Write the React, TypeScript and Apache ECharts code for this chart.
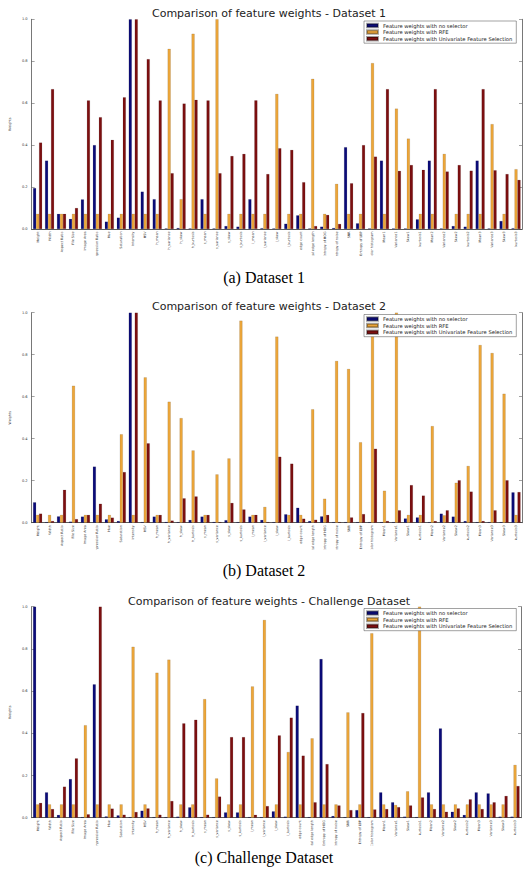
import React, { useEffect, useRef } from "react";
import * as echarts from "echarts";

const categories = [
  "Height", "Width", "Aspect Ratio", "File Size", "Image Area", "Compression Ratio",
  "Hue", "Saturation", "Intensity", "HSV", "h_mean", "h_variance", "h_skew", "h_kurtosis",
  "s_mean", "s_variance", "s_skew", "s_kurtosis", "i_mean", "i_variance", "i_skew", "i_kurtosis",
  "edge count", "Total edge length", "Entropy of HOG", "Entropy of noise", "SNR", "Entropy of LBP",
  "Color histogram", "Mean1", "Variance1", "Skew1", "kurtosis1", "Mean2", "Variance2", "Skew2",
  "kurtosis2", "Mean3", "Variance3", "Skew3", "kurtosis3",
];

const seriesNames = [
  "Feature weights with no selector",
  "Feature weights with RFE",
  "Feature weights with Univariate Feature Selection",
];

const yTicks = [0, 0.2, 0.4, 0.6, 0.8, 1.0];

// Dataset 1
const noSel1 = [0.195, 0.326, 0.072, 0.048, 0.141, 0.4, 0.035, 0.054, 1.0, 0.178, 0.142, 0.003, 0.005, 0.003, 0.142, 0.003, 0.014, 0.011, 0.142, 0.004, 0.003, 0.025, 0.065, 0.003, 0.011, 0.005, 0.39, 0.027, 0.003, 0.326, 0.003, 0.003, 0.046, 0.326, 0.003, 0.014, 0.011, 0.326, 0.003, 0.038, 0.004];
const rfe1 = [0.072, 0.072, 0.072, 0.072, 0.072, 0.072, 0.072, 0.072, 0.072, 0.072, 0.072, 0.859, 0.142, 0.931, 0.072, 1.0, 0.072, 0.072, 0.072, 0.072, 0.644, 0.072, 0.072, 0.716, 0.072, 0.215, 0.072, 0.072, 0.791, 0.072, 0.574, 0.431, 0.072, 0.072, 0.358, 0.072, 0.072, 0.072, 0.5, 0.072, 0.285];
const uni1 = [0.412, 0.667, 0.072, 0.1, 0.613, 0.533, 0.425, 0.628, 1.0, 0.81, 0.613, 0.266, 0.598, 0.616, 0.613, 0.266, 0.348, 0.358, 0.613, 0.262, 0.385, 0.377, 0.223, 0.014, 0.067, 0.024, 0.218, 0.4, 0.345, 0.667, 0.277, 0.305, 0.282, 0.667, 0.274, 0.305, 0.278, 0.667, 0.28, 0.262, 0.234];

// Dataset 2
const noSel2 = [0.097, 0.003, 0.03, 0.005, 0.029, 0.267, 0.016, 0.008, 1.0, 0.003, 0.029, 0.004, 0.003, 0.013, 0.029, 0.004, 0.012, 0.003, 0.029, 0.013, 0.003, 0.04, 0.071, 0.008, 0.03, 0.003, 0.003, 0.003, 0.003, 0.003, 0.003, 0.02, 0.025, 0.003, 0.043, 0.029, 0.008, 0.003, 0.003, 0.003, 0.144];
const rfe2 = [0.037, 0.037, 0.037, 0.652, 0.037, 0.037, 0.037, 0.421, 0.037, 0.692, 0.037, 0.576, 0.498, 0.344, 0.037, 0.23, 0.306, 0.962, 0.037, 0.075, 0.886, 0.037, 0.037, 0.54, 0.114, 0.77, 0.732, 0.383, 0.93, 0.152, 1.0, 0.037, 0.037, 0.46, 0.035, 0.19, 0.27, 0.846, 0.808, 0.614, 0.037];
const uni2 = [0.043, 0.008, 0.157, 0.017, 0.037, 0.09, 0.024, 0.241, 1.0, 0.378, 0.037, 0.01, 0.116, 0.125, 0.037, 0.003, 0.094, 0.063, 0.037, 0.003, 0.314, 0.281, 0.019, 0.014, 0.037, 0.003, 0.025, 0.041, 0.352, 0.008, 0.059, 0.179, 0.129, 0.008, 0.059, 0.202, 0.148, 0.008, 0.059, 0.202, 0.146];

// Challenge dataset
const noSel3 = [1.0, 0.12, 0.013, 0.183, 0.003, 0.632, 0.006, 0.011, 0.003, 0.033, 0.003, 0.003, 0.005, 0.049, 0.003, 0.003, 0.025, 0.025, 0.003, 0.003, 0.03, 0.005, 0.531, 0.003, 0.752, 0.008, 0.003, 0.036, 0.003, 0.12, 0.073, 0.005, 0.003, 0.12, 0.423, 0.028, 0.013, 0.12, 0.115, 0.005, 0.005];
const rfe3 = [0.063, 0.063, 0.063, 0.063, 0.438, 0.063, 0.063, 0.063, 0.81, 0.063, 0.687, 0.749, 0.063, 0.063, 0.562, 0.186, 0.063, 0.063, 0.622, 0.937, 0.063, 0.311, 0.063, 0.376, 0.063, 0.063, 0.499, 0.063, 0.874, 0.063, 0.06, 0.125, 1.0, 0.063, 0.063, 0.063, 0.063, 0.063, 0.063, 0.063, 0.25];
const uni3 = [0.07, 0.041, 0.147, 0.281, 0.016, 1.0, 0.043, 0.014, 0.027, 0.044, 0.014, 0.079, 0.447, 0.464, 0.014, 0.1, 0.382, 0.382, 0.014, 0.055, 0.39, 0.474, 0.294, 0.073, 0.254, 0.058, 0.036, 0.496, 0.039, 0.041, 0.05, 0.058, 0.096, 0.041, 0.028, 0.044, 0.087, 0.041, 0.073, 0.103, 0.15];

const panelTitles = [
  "Comparison of feature weights - Dataset 1",
  "Comparison of feature weights - Dataset 2",
  "Comparison of feature weights - Challenge Dataset",
];
const captions = ["(a) Dataset 1", "(b) Dataset 2", "(c) Challenge Dataset"];
const panelData = [
  [noSel1, rfe1, uni1],
  [noSel2, rfe2, uni2],
  [noSel3, rfe3, uni3],
];

const colors = ["#0b0b78", "#eca63a", "#7c0f10"];

const gridBoxes = [
  { left: 21, top: 19.3, width: 501, height: 209.7 },
  { left: 21, top: 312.7, width: 501, height: 210 },
  { left: 21, top: 606.7, width: 500, height: 211 },
];
const titleY = [13.5, 306.5, 601];
const captionY = [277.5, 570.5, 857];
const legendTop = [21, 314.5, 608.5];
const maskRanges = [
  [256, 268],
  [549.5, 561],
  [845.5, 872],
];

const FONT = "DejaVu Sans";

export default function App() {
  const ref = useRef<HTMLDivElement>(null);
  useEffect(() => {
    if (!ref.current) return;
    const chart = echarts.init(ref.current, undefined, { renderer: "svg" });
    const xAxis: any[] = [];
    const yAxis: any[] = [];
    const series: any[] = [];
    const legend: any[] = [];
    const graphic: any[] = [];
    const axisLineStyle = { color: "#555", width: 0.8 };
    const tickStyle = { color: "#444", width: 0.5 };

    gridBoxes.forEach((g, p) => {
      xAxis.push({
        type: "category",
        gridIndex: p,
        data: categories,
        position: "bottom",
        axisLine: { show: true, lineStyle: axisLineStyle },
        axisTick: { inside: true, alignWithLabel: true, length: 2, lineStyle: tickStyle },
        axisLabel: { rotate: 90, fontSize: 3.3, color: "#333", margin: 2.5, interval: 0, fontFamily: FONT },
      });
      xAxis.push({
        type: "category",
        gridIndex: p,
        data: categories,
        position: "top",
        axisLine: { show: true, lineStyle: axisLineStyle },
        axisTick: { inside: true, alignWithLabel: true, length: 2, lineStyle: tickStyle },
        axisLabel: { show: false },
      });
      yAxis.push({
        type: "value",
        gridIndex: p,
        min: 0,
        max: 1,
        interval: 0.2,
        position: "left",
        name: "Weights",
        nameLocation: "middle",
        nameGap: 12,
        nameTextStyle: { fontSize: 3.4, color: "#333", fontFamily: FONT },
        axisLine: { show: true, lineStyle: axisLineStyle },
        axisTick: { show: true, inside: true, length: 3, lineStyle: tickStyle },
        axisLabel: {
          fontSize: 3.6,
          color: "#333",
          margin: 4,
          fontFamily: FONT,
          formatter: (v: number) => (yTicks.includes(Math.round(v * 10) / 10) ? v.toFixed(1) : ""),
        },
        splitLine: { show: false },
      });
      yAxis.push({
        type: "value",
        gridIndex: p,
        min: 0,
        max: 1,
        interval: 0.2,
        position: "right",
        axisLine: { show: true, lineStyle: axisLineStyle },
        axisTick: { show: true, inside: true, length: 3, lineStyle: tickStyle },
        axisLabel: { show: false },
        splitLine: { show: false },
      });
      panelData[p].forEach((vals, s) => {
        series.push({
          type: "bar",
          name: seriesNames[s],
          xAxisIndex: 2 * p,
          yAxisIndex: 2 * p,
          data: vals,
          barWidth: 3,
          barGap: "0%",
          itemStyle: { color: colors[s], borderColor: "rgba(0,0,0,0.35)", borderWidth: 0.3 },
        });
      });
      legend.push({
        orient: "vertical",
        left: 364,
        top: legendTop[p],
        data: seriesNames,
        icon: "rect",
        itemWidth: 11,
        itemHeight: 3.5,
        itemGap: 0.6,
        padding: [1.5, 4, 1.5, 2],
        backgroundColor: "#fff",
        borderColor: "#444",
        borderWidth: 0.5,
        selectedMode: false,
        textStyle: { fontSize: 5.2, lineHeight: 6, color: "#222", fontFamily: FONT },
      });
      graphic.push({
        type: "rect",
        z: 100,
        shape: { x: 0, y: maskRanges[p][0], width: 528, height: maskRanges[p][1] - maskRanges[p][0] },
        style: { fill: "#fff" },
      });
      graphic.push({
        type: "text",
        z: 101,
        x: 269,
        y: titleY[p],
        style: {
          text: panelTitles[p],
          fontSize: 11,
          fontFamily: FONT,
          fill: "#222",
          align: "center",
          verticalAlign: "middle",
        },
      });
      graphic.push({
        type: "text",
        z: 101,
        x: 264,
        y: captionY[p],
        style: {
          text: captions[p],
          fontSize: 16,
          fontFamily: "Liberation Serif",
          fill: "#000",
          align: "center",
          verticalAlign: "middle",
        },
      });
    });

    chart.setOption({
      animation: false,
      backgroundColor: "#fff",
      grid: gridBoxes.map((g) => ({ ...g, containLabel: false })),
      xAxis,
      yAxis,
      series,
      legend,
      graphic,
    });
    return () => chart.dispose();
  }, []);
  return (
    <div
      ref={ref}
      style={{ position: "absolute", left: 0, top: 0, width: 528, height: 872 }}
    />
  );
}
